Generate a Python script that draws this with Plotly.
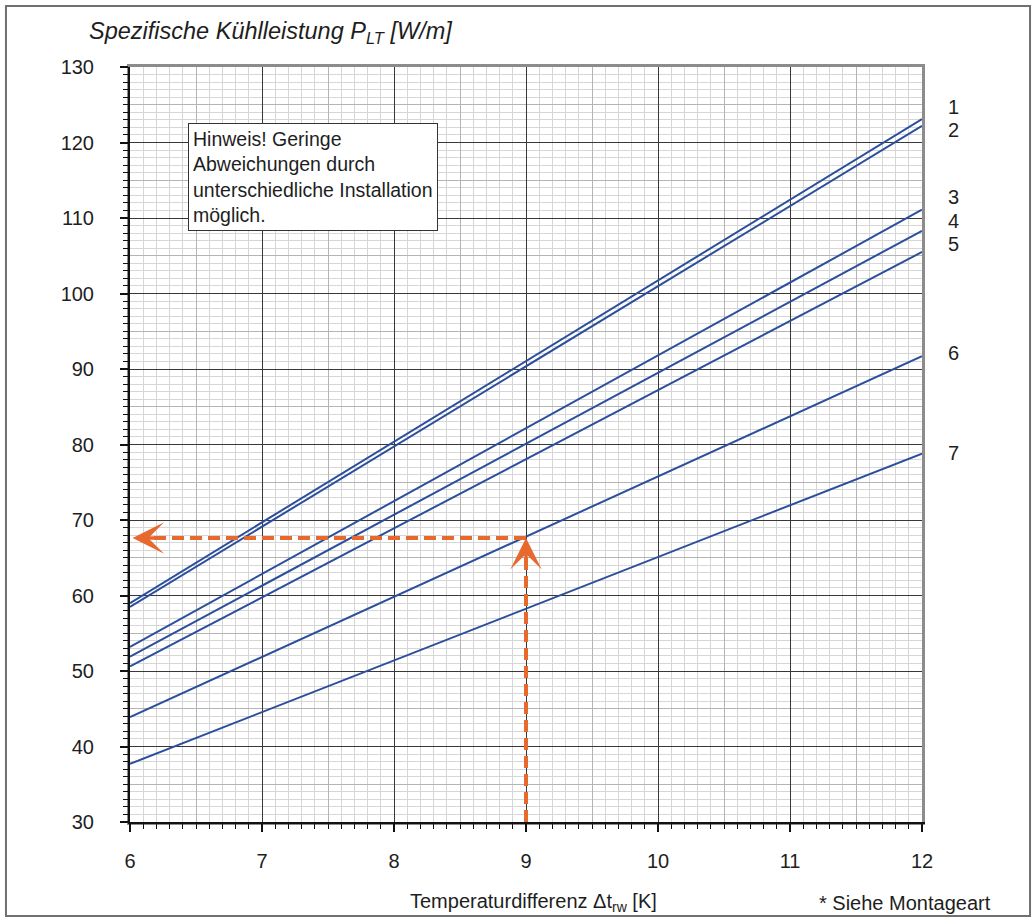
import plotly.graph_objects as go

# ---------------- data ----------------
x_vals = [6, 12]
series_names = ["1", "2", "3", "4", "5", "6", "7"]
series_values = [
    [59.0, 123.1],
    [58.5, 122.2],
    [53.2, 111.1],
    [51.9, 108.3],
    [50.6, 105.5],
    [43.9, 91.7],
    [37.7, 78.8],
]
label_y = [124.7, 121.6, 112.8, 109.6, 106.5, 92.1, 78.9]

x_ticks = [6, 7, 8, 9, 10, 11, 12]
y_ticks = [30, 40, 50, 60, 70, 80, 90, 100, 110, 120, 130]

read_x = 9
read_y = 67.6
arrow_left_x = 6.02
y_min = 30

FONT = "Liberation Sans, Arial, Helvetica, sans-serif"
LINE_COLOR = "#2c4f9c"
ORANGE = "#e8692d"
TEXT = "#1e1e1e"

fig = go.Figure()

# invisible trace so the base (grid) axes are drawn
fig.add_trace(go.Scatter(x=[x_vals[0]], y=[y_ticks[0]], mode="markers",
                         marker=dict(opacity=0), hoverinfo="skip",
                         showlegend=False, xaxis="x", yaxis="y"))

for name, vals in zip(series_names, series_values):
    fig.add_trace(go.Scatter(x=x_vals, y=vals, mode="lines", name=name,
                             line=dict(color=LINE_COLOR, width=2),
                             showlegend=False, xaxis="x2", yaxis="y2"))

# reading example (dashed orange)
fig.add_trace(go.Scatter(x=[read_x, arrow_left_x + 0.12], y=[read_y, read_y], mode="lines",
                         line=dict(color=ORANGE, width=4, dash="12px,6px"),
                         showlegend=False, xaxis="x2", yaxis="y2"))
fig.add_trace(go.Scatter(x=[read_x, read_x], y=[y_min, read_y - 2.0], mode="lines",
                         line=dict(color=ORANGE, width=4, dash="12px,6px"),
                         showlegend=False, xaxis="x2", yaxis="y2"))

annotations = []
# arrowheads
annotations.append(dict(x=arrow_left_x, y=read_y, ax=arrow_left_x + 0.22, ay=read_y,
                        xref="x2", yref="y2", axref="x2", ayref="y2", text="",
                        showarrow=True, arrowhead=3, arrowsize=1.5, arrowwidth=3.5,
                        arrowcolor=ORANGE))
annotations.append(dict(x=read_x, y=read_y, ax=read_x, ay=read_y - 3.8,
                        xref="x2", yref="y2", axref="x2", ayref="y2", text="",
                        showarrow=True, arrowhead=3, arrowsize=1.5, arrowwidth=3.5,
                        arrowcolor=ORANGE))

# curve labels
for name, ly in zip(series_names, label_y):
    annotations.append(dict(x=1.03, y=ly, xref="paper", yref="y2", text=name,
                            showarrow=False, xanchor="left", yanchor="middle",
                            font=dict(family=FONT, size=20, color=TEXT)))

# title (y axis)
annotations.append(dict(x=-0.054, y=1.046, xref="paper", yref="paper",
                        text="<i>Spezifische Kühlleistung P<sub>LT</sub> [W/m]</i>",
                        showarrow=False, xanchor="left", yanchor="middle",
                        font=dict(family=FONT, size=23.5, color=TEXT)))
# x title
annotations.append(dict(x=0.510, y=-0.107, xref="paper", yref="paper",
                        text="Temperaturdifferenz Δt<sub>rw</sub> [K]",
                        showarrow=False, xanchor="center", yanchor="middle",
                        font=dict(family=FONT, size=20, color=TEXT)))
annotations.append(dict(x=1.0896, y=-0.107, xref="paper", yref="paper",
                        text="* Siehe Montageart",
                        showarrow=False, xanchor="right", yanchor="middle",
                        font=dict(family=FONT, size=20, color=TEXT)))
# note box
annotations.append(dict(x=0.0732, y=0.9258, xref="paper", yref="paper",
                        text="Hinweis! Geringe<br>Abweichungen durch<br>unterschiedliche Installation<br>möglich.",
                        showarrow=False, xanchor="left", yanchor="top", align="left",
                        bgcolor="white", bordercolor="#333", borderwidth=1, borderpad=4,
                        font=dict(family=FONT, size=19.5, color=TEXT)))

shapes = [dict(type="rect", xref="paper", yref="paper",
               x0=-0.1566, x1=1.1364, y0=-0.1245, y1=1.0808,
               line=dict(color="#707070", width=2), fillcolor="rgba(0,0,0,0)", layer="below")]

base_x = dict(range=[6, 12], dtick=0.5, tick0=6, showgrid=True, gridcolor="#b4b4b4", gridwidth=1,
              minor=dict(dtick=0.1, showgrid=True, gridcolor="#d6d6d6", gridwidth=1),
              showline=True, linecolor="#8c8c8c", linewidth=2.5, mirror=True,
              showticklabels=False, ticks="", zeroline=False, fixedrange=True)
base_y = dict(range=[30, 130], dtick=5, tick0=30, showgrid=True, gridcolor="#b4b4b4", gridwidth=1,
              minor=dict(dtick=1, showgrid=True, gridcolor="#d6d6d6", gridwidth=1),
              showline=True, linecolor="#8c8c8c", linewidth=2.5, mirror=True,
              showticklabels=False, ticks="", zeroline=False, fixedrange=True)

top_x = dict(overlaying="x", anchor="y2", side="bottom", range=[6, 12],
             tickmode="array", tickvals=x_ticks, ticktext=[str(t) for t in x_ticks],
             showgrid=True, gridcolor="#383838", gridwidth=1,
             showline=True, linecolor="#111", linewidth=2,
             ticks="outside", ticklen=8, tickwidth=1.5, tickcolor="#111",
             minor=dict(dtick=0.1, ticks="outside", ticklen=5, tickwidth=1, tickcolor="#111", showgrid=False),
             ticklabelstandoff=12, tickfont=dict(family=FONT, size=20, color=TEXT),
             zeroline=False, fixedrange=True)
top_y = dict(overlaying="y", anchor="x2", side="left", range=[30, 130],
             tickmode="array", tickvals=y_ticks, ticktext=[str(t) for t in y_ticks],
             showgrid=True, gridcolor="#383838", gridwidth=1,
             showline=True, linecolor="#111", linewidth=2,
             ticks="outside", ticklen=8, tickwidth=1.5, tickcolor="#111",
             minor=dict(dtick=1, ticks="outside", ticklen=5, tickwidth=1, tickcolor="#111", showgrid=False),
             ticklabelstandoff=22, tickfont=dict(family=FONT, size=20, color=TEXT),
             zeroline=False, fixedrange=True)

fig.update_layout(
    width=1036, height=918,
    margin=dict(l=130, r=114, t=67, b=96),
    paper_bgcolor="white", plot_bgcolor="white",
    xaxis=base_x, yaxis=base_y, xaxis2=top_x, yaxis2=top_y,
    annotations=annotations, shapes=shapes,
    font=dict(family=FONT, color=TEXT),
    showlegend=False,
)

fig.write_html("out.html", config={"displayModeBar": False},
               post_script="document.body.style.margin='0px';")
